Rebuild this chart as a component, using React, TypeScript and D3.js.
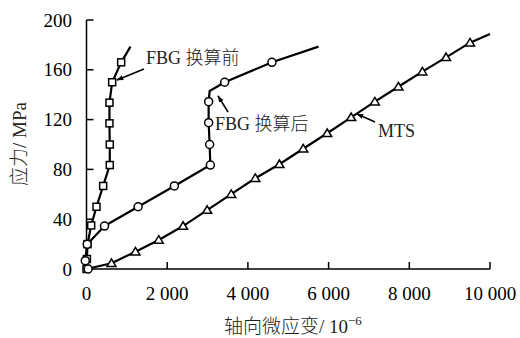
import React from "react";
import * as d3 from "d3";

// Stress–strain curves: FBG readings before/after conversion and the MTS reference.
const fbgBeforeStrain = [0, 10, 25, 116, 248, 413, 577, 577, 569, 569, 636, 859, 1089];
const fbgBeforeStress = [0, 8, 20, 35, 50, 66.7, 83.5, 100, 117, 133.6, 150, 166, 178.6];
const fbgBeforeMarked = [1, 1, 1, 1, 1, 1, 1, 1, 1, 1, 1, 1, 0];

const fbgAfterStrain = [40, -30, 17, 446, 1279, 2178, 3069, 3052, 3027, 3027, 3052, 3424, 4596, 5750];
const fbgAfterStress = [0, 6.7, 19.8, 34.5, 50, 66.7, 83.5, 100, 117.5, 134.4, 143, 150, 166, 178.6];
const fbgAfterMarked = [1, 1, 1, 1, 1, 1, 1, 1, 1, 1, 0, 1, 1, 0];

const mtsStrain = [0, 619, 1213, 1790, 2393, 2990, 3587, 4183, 4780, 5371, 5965, 6559, 7146, 7730, 8324, 8911, 9505, 10000];
const mtsStress = [0, 4.6, 13.9, 23.3, 34.5, 47.3, 60.1, 72.9, 84.1, 96.6, 109, 121.8, 134.4, 146.4, 158.5, 170, 181.8, 188.8];
const mtsMarked = [0, 1, 1, 1, 1, 1, 1, 1, 1, 1, 1, 1, 1, 1, 1, 1, 1, 0];

const xTicks = [0, 2000, 4000, 6000, 8000, 10000];
const xTickLabels = ["0", "2 000", "4 000", "6 000", "8 000", "10 000"];
const yTicks = [0, 40, 80, 120, 160, 200];

// Curve labels: text position and leader arrow (from -> to) in data units
const labelTexts = ["FBG 换算前", "FBG 换算后", "MTS"];
const labelAt = [[1475, 164.7], [3185, 111.6], [7224, 106]];
const arrowFrom = [[1425, 160.6], [3507, 126.1], [7150, 118.1]];
const arrowTo = [[756, 151.8], [3259, 139], [6704, 124.5]];

const FONT = "'Liberation Serif', 'Times New Roman', 'Noto Sans CJK SC', serif";

type Pt = [number, number];
const zip = (xs: number[], ys: number[]): Pt[] => xs.map((x, i) => [x, ys[i]]);

export default function App() {
  const W = 520;
  const H = 338;
  const x = d3.scaleLinear().domain([0, 10000]).range([86.5, 490]);
  const y = d3.scaleLinear().domain([0, 200]).range([269, 20]);
  const line = d3
    .line<Pt>()
    .x((d) => x(d[0]))
    .y((d) => y(d[1]));

  const before = zip(fbgBeforeStrain, fbgBeforeStress);
  const after = zip(fbgAfterStrain, fbgAfterStress);
  const mts = zip(mtsStrain, mtsStress);

  const sq = 7;
  const tri = (cx: number, cy: number) => {
    const s = 4.3;
    return `M${cx},${cy - s}L${cx + s * 1.05},${cy + s * 0.75}L${cx - s * 1.05},${cy + s * 0.75}Z`;
  };

  const stroke = "#000";
  const lw = 2.2;

  return (
    <svg
      width={W}
      height={H}
      style={{ position: "absolute", left: 0, top: 0, background: "#fff" }}
      fontFamily={FONT}
      fontWeight={300}
    >
      <defs>
        <marker id="ah" viewBox="0 0 10 10" refX="9" refY="5" markerWidth="7" markerHeight="7" orient="auto" markerUnits="userSpaceOnUse">
          <path d="M0,1.5L10,5L0,8.5Z" fill="#000" />
        </marker>
      </defs>

      {/* axes */}
      <line x1={x(0)} x2={x(10000)} y1={y(0)} y2={y(0)} stroke={stroke} strokeWidth={1.5} />
      <line x1={x(0)} x2={x(0)} y1={y(0)} y2={y(200)} stroke={stroke} strokeWidth={1.5} />
      {xTicks.map((t, i) => (
        <g key={"xt" + i}>
          <line x1={x(t)} x2={x(t)} y1={y(0)} y2={y(0) - 7} stroke={stroke} strokeWidth={1.5} />
          <text x={x(t)} y={300} fontSize={19} textAnchor="middle">
            {xTickLabels[i]}
          </text>
        </g>
      ))}
      {yTicks.map((t, i) => (
        <g key={"yt" + i}>
          <line x1={x(0)} x2={x(0) + 7} y1={y(t)} y2={y(t)} stroke={stroke} strokeWidth={1.5} />
          <text x={72} y={y(t) + 6.5} fontSize={19} textAnchor="end">
            {t}
          </text>
        </g>
      ))}

      {/* axis titles */}
      <text x={224} y={333} fontSize={19} fill="#222">
        轴向微应变/ 10
        <tspan fontSize={13} dy={-8}>−6</tspan>
      </text>
      <text transform="translate(26,144) rotate(-90)" fontSize={19} textAnchor="middle" fill="#222">
        应力/ MPa
      </text>

      {/* curves */}
      <path d={line(mts) || ""} fill="none" stroke={stroke} strokeWidth={lw} strokeLinejoin="round" />
      <path d={line(before) || ""} fill="none" stroke={stroke} strokeWidth={lw} strokeLinejoin="round" />
      <path d={line(after) || ""} fill="none" stroke={stroke} strokeWidth={lw} strokeLinejoin="round" />

      {/* markers */}
      {mts.map((d, i) =>
        mtsMarked[i] ? (
          <path key={"m" + i} d={tri(x(d[0]), y(d[1]))} fill="#fff" stroke={stroke} strokeWidth={1.5} />
        ) : null
      )}
      {before.map((d, i) =>
        fbgBeforeMarked[i] ? (
          <rect
            key={"b" + i}
            x={x(d[0]) - sq / 2}
            y={y(d[1]) - sq / 2}
            width={sq}
            height={sq}
            fill="#fff"
            stroke={stroke}
            strokeWidth={1.5}
          />
        ) : null
      )}
      {after.map((d, i) =>
        fbgAfterMarked[i] ? (
          <circle key={"a" + i} cx={x(d[0])} cy={y(d[1])} r={4} fill="#fff" stroke={stroke} strokeWidth={1.5} />
        ) : null
      )}

      {/* curve labels with leader arrows */}
      {labelTexts.map((t, i) => (
        <g key={"lb" + i}>
          <line
            x1={x(arrowFrom[i][0])}
            y1={y(arrowFrom[i][1])}
            x2={x(arrowTo[i][0])}
            y2={y(arrowTo[i][1])}
            stroke={stroke}
            strokeWidth={1.6}
            markerEnd="url(#ah)"
          />
          <text x={x(labelAt[i][0])} y={y(labelAt[i][1])} fontSize={18} fill="#222">
            {t}
          </text>
        </g>
      ))}
    </svg>
  );
}
